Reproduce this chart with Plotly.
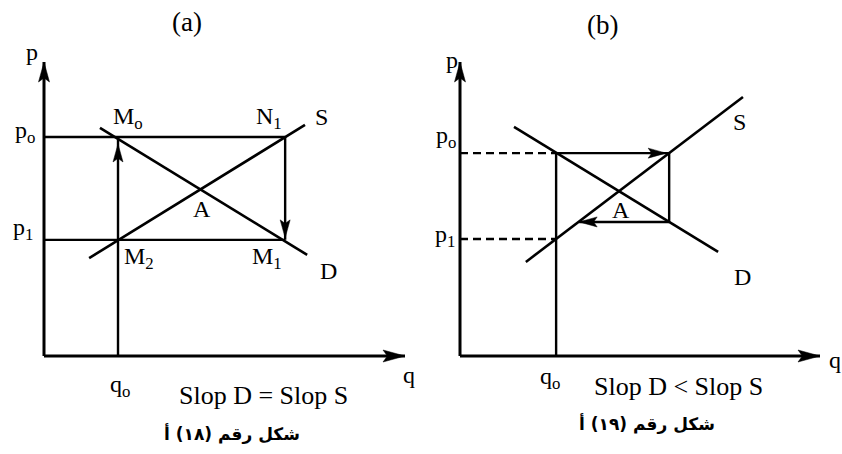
import numpy as np
import plotly.graph_objects as go

# ---------------- data ----------------
# panel (a): demand and supply with equal slopes
a_demand_q = [1.55, 7.29]
a_demand_p = [7.76, 3.44]
a_supply_q = [1.25, 7.23]
a_supply_p = [3.33, 7.86]
a_q0, a_q1 = 2.05, 6.68
a_p0, a_p1 = 7.45, 3.95

# panel (b): demand flatter than supply
b_demand_q = [1.50, 7.17]
b_demand_p = [7.79, 3.54]
b_supply_q = [1.83, 7.86]
b_supply_p = [3.20, 8.81]
b_q0, b_q1, b_q2 = 2.67, 5.81, 3.31
b_p0, b_p1, b_p2 = 6.90, 3.98, 4.56

axis_len = 10.0

# ---------------- layout geometry ----------------
W, H = 842, 454
SY = 29.4              # pixels per price unit (both panels)
SXA, SXB = 36.1, 36.0  # pixels per quantity unit
ORIG_A = (44, 356)     # pixel origin of panel (a)
ORIG_B = (460, 356)    # pixel origin of panel (b)
PAD = 0.5              # extra data units round each panel


def domains(orig, sx):
    x0 = orig[0] - PAD * sx
    x1 = orig[0] + (axis_len + PAD) * sx
    ybot = orig[1] + PAD * SY
    ytop = orig[1] - (axis_len + PAD) * SY
    return [x0 / W, x1 / W], [(H - ybot) / H, (H - ytop) / H]


def head(qt, pt, qf, pf, sx, length=18, width=10, standoff=0):
    """Filled arrow head whose tip sits at (qt, pt), pointing away from (qf, pf)."""
    dx, dy = (qt - qf) * sx, (pt - pf) * SY
    n = np.hypot(dx, dy)
    ux, uy = dx / n, dy / n
    tx, ty = qt * sx - ux * standoff, pt * SY - uy * standoff
    bx, by = tx - ux * length, ty - uy * length
    nx, ny = -uy, ux
    nxb, nyb = tx - ux * length * 0.8, ty - uy * length * 0.8
    px = [tx, bx + nx * width / 2, nxb, bx - nx * width / 2, tx]
    py = [ty, by + ny * width / 2, nyb, by - ny * width / 2, ty]
    return [v / sx for v in px], [v / SY for v in py]


fig = go.Figure()


def line(xs, ys, ax, width=2.6, dash=None):
    fig.add_trace(go.Scatter(
        x=xs, y=ys, mode="lines", xaxis=ax[0], yaxis=ax[1],
        line=dict(color="black", width=width, dash=dash),
        hoverinfo="skip", showlegend=False))


def arrow(qt, pt, qf, pf, ax, sx, **kw):
    hx, hy = head(qt, pt, qf, pf, sx, **kw)
    fig.add_trace(go.Scatter(
        x=hx, y=hy, mode="lines", fill="toself", fillcolor="black",
        xaxis=ax[0], yaxis=ax[1], line=dict(color="black", width=0.5),
        hoverinfo="skip", showlegend=False))


A = ("x", "y")
B = ("x2", "y2")
AXW = 3.0   # axis stroke
BOXW = 2.4  # cobweb stroke

# ---- panel (a) ----
line([0, axis_len], [0, 0], A, width=AXW)
line([0, 0], [0, axis_len], A, width=AXW)
arrow(axis_len, 0, 0, 0, A, SXA, length=22, width=12)
arrow(0, axis_len, 0, 0, A, SXA, length=20, width=11)
line(a_demand_q, a_demand_p, A)
line(a_supply_q, a_supply_p, A)
line([0, a_q1], [a_p0, a_p0], A, width=BOXW)
line([0, a_q1], [a_p1, a_p1], A, width=BOXW)
line([a_q0, a_q0], [0, a_p0], A, width=BOXW)
line([a_q1, a_q1], [a_p0, a_p1], A, width=BOXW)
arrow(a_q0, a_p0, a_q0, 0, A, SXA, standoff=7)
arrow(a_q1, a_p1, a_q1, a_p0, A, SXA, standoff=2)

# ---- panel (b) ----
line([0, axis_len], [0, 0], B, width=AXW)
line([0, 0], [0, axis_len], B, width=AXW)
arrow(axis_len, 0, 0, 0, B, SXB, length=22, width=12)
arrow(0, axis_len, 0, 0, B, SXB, length=20, width=11)
line(b_demand_q, b_demand_p, B)
line(b_supply_q, b_supply_p, B)
line([0, b_q0], [b_p0, b_p0], B, width=BOXW, dash="8px,5px")
line([0, b_q0], [b_p1, b_p1], B, width=BOXW, dash="8px,5px")
line([b_q0, b_q0], [0, b_p0], B, width=BOXW)
line([b_q0, b_q1], [b_p0, b_p0], B, width=BOXW)
line([b_q1, b_q1], [b_p0, b_p2], B, width=BOXW)
line([b_q1, b_q2], [b_p2, b_p2], B, width=BOXW)
arrow(b_q1, b_p0, b_q0, b_p0, B, SXB, standoff=3)
arrow(b_q2, b_p2, b_q1, b_p2, B, SXB, standoff=0)

# ---------------- text ----------------
SERIF = "Liberation Serif"
ARABIC = "DejaVu Sans"
PANEL = {"x": (ORIG_A, SXA), "x2": (ORIG_B, SXB)}


def label(text, q, p, ax, size=24, family=SERIF):
    # positions given in each panel's (q, p) units, placed on the page
    orig, sx = PANEL[ax[0]]
    px = orig[0] + q * sx
    py = orig[1] - p * SY
    fig.add_annotation(text=text, x=px / W, y=(H - py) / H, xref="paper", yref="paper",
                       showarrow=False, xanchor="center", yanchor="middle",
                       font=dict(family=family, size=size, color="black"))


def sub(base, s):
    return f"{base}<sub>{s}</sub>"


label("(a)", 3.96, 11.35, A, size=27)
label("p", -0.33, 10.34, A)
label(sub("p", "o"), -0.53, 7.62, A)
label(sub("p", "1"), -0.58, 4.32, A)
label(sub("M", "o"), 2.32, 8.10, A)
label(sub("N", "1"), 6.23, 8.10, A)
label("S", 7.70, 8.13, A)
label("A", 4.38, 5.00, A)
label(sub("M", "2"), 2.62, 3.33, A)
label(sub("M", "1"), 6.17, 3.33, A)
label("D", 7.87, 2.89, A)
label(sub("q", "o"), 2.11, -1.02, A)
label("q", 10.11, -0.65, A)
label("Slop D = Slop S", 6.09, -1.36, A, size=26)
label("<b>شكل رقم (١٨) أ</b>", 5.21, -2.62, A, size=17, family=ARABIC)

label("(b)", 3.97, 11.25, B, size=27)
label("p", -0.22, 10.07, B)
label(sub("p", "o"), -0.39, 7.45, B)
label(sub("p", "1"), -0.42, 4.08, B)
label("S", 7.75, 7.96, B)
label("A", 4.47, 4.97, B)
label("D", 7.86, 2.69, B)
label(sub("q", "o"), 2.50, -0.75, B)
label("q", 10.42, -0.14, B)
label("Slop D &lt; Slop S", 6.06, -1.05, B, size=26)
label("<b>شكل رقم (١٩) أ</b>", 5.19, -2.28, B, size=17, family=ARABIC)

xa, ya = domains(ORIG_A, SXA)
xb, yb = domains(ORIG_B, SXB)
hidden = dict(visible=False, fixedrange=True)
fig.update_layout(
    width=W, height=H, margin=dict(l=0, r=0, t=0, b=0),
    paper_bgcolor="white", plot_bgcolor="rgba(0,0,0,0)",
    showlegend=False,
    xaxis=dict(domain=xa, range=[-PAD, axis_len + PAD], anchor="y", **hidden),
    yaxis=dict(domain=ya, range=[-PAD, axis_len + PAD], anchor="x", **hidden),
    xaxis2=dict(domain=xb, range=[-PAD, axis_len + PAD], anchor="y2", **hidden),
    yaxis2=dict(domain=yb, range=[-PAD, axis_len + PAD], anchor="x2", **hidden),
)

fig.write_html("out.html")
